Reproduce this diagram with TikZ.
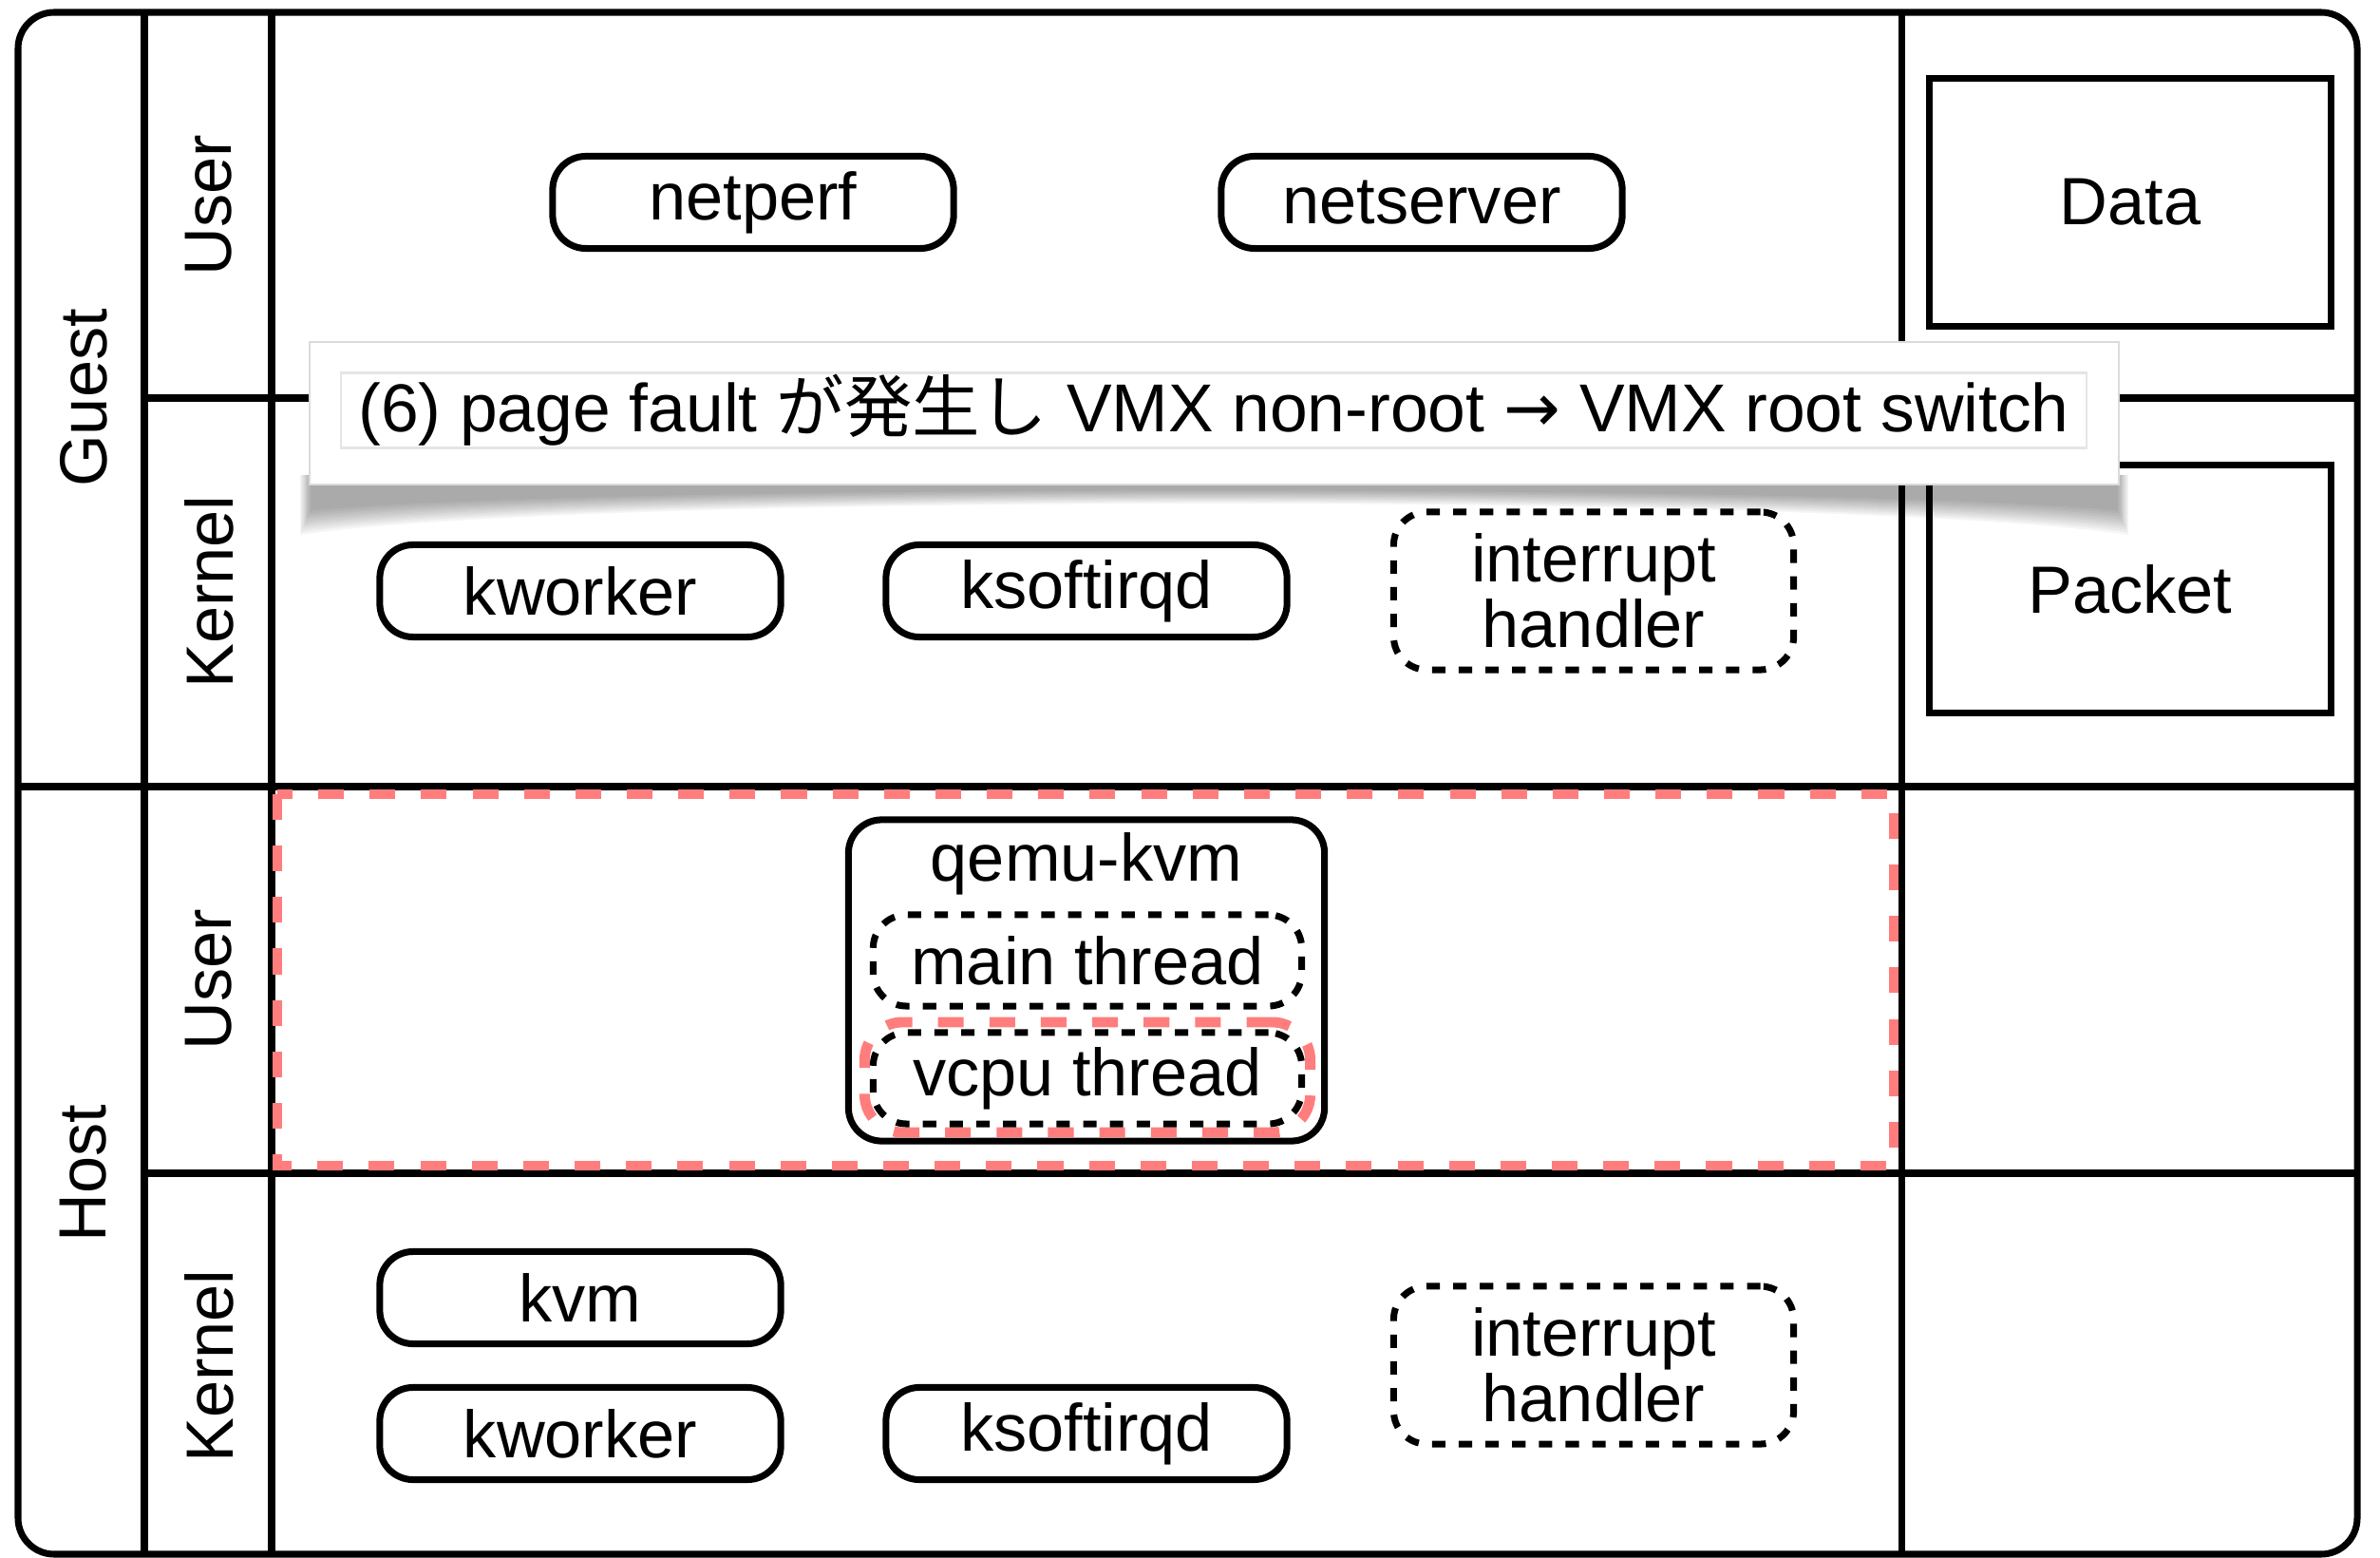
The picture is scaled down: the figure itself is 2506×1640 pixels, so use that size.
\documentclass[tikz,border=0pt]{standalone}
\usepackage{fontspec}
\setmainfont{Liberation Sans}
\newfontfamily\jpfont{Noto Sans CJK JP}
\newfontfamily\symfont{DejaVu Sans}
\definecolor{hlred}{RGB}{255,125,125}
\begin{document}
\begin{tikzpicture}[x=0.01cm,y=-0.01cm,
  txt/.style={font=\fontsize{20}{19.6}\selectfont, align=center},
  frameline/.style={line width=2pt},
  proc/.style={draw, line width=2pt, rounded corners=0.35cm, minimum width=4.22cm, minimum height=0.97cm, inner sep=0pt, txt},
  dproc/.style={proc, dash pattern=on 4pt off 4pt},
  irq/.style={dproc, minimum width=4.21cm, minimum height=1.66cm},
  thr/.style={dproc, minimum width=4.51cm, minimum height=0.96cm},
  store/.style={draw, line width=2pt, minimum width=4.22cm, minimum height=2.60cm, inner sep=0pt, txt},
  hl/.style={draw=hlred, line width=3.1pt, dash pattern=on 7.7pt off 7.7pt},
  side/.style={rotate=90, inner sep=0pt, txt},
  shadowlayer/.style={fill=black, opacity=0.04}
]
\useasboundingbox (0,0) rectangle (2506,1640);

% outer frame and grid
\draw[frameline, rounded corners=0.38cm] (19,13) rectangle (2482,1636);
\draw[frameline] (152,13) -- (152,1636);
\draw[frameline] (286,13) -- (286,1636);
\draw[frameline] (2002,13) -- (2002,1636);
\draw[frameline] (152,419) -- (2482,419);
\draw[frameline] (19,828) -- (2482,828);
\draw[frameline] (152,1235) -- (2482,1235);

% side labels
\node[side] (guest) at (88,419) {Guest};
\node[side] (host) at (88,1235) {Host};
\node[side] (gu) at (220,216) {User};
\node[side] (gk) at (220,623) {Kernel};
\node[side] (hu) at (220,1031) {User};
\node[side] (hk) at (220,1438) {Kernel};

% guest user
\node[proc] (netperf) at (793,213) {netperf};
\node[proc] (netserver) at (1497,213) {netserver};

% guest kernel
\node[proc] (gkworker) at (611,622) {kworker};
\node[proc] (gksoft) at (1144,622) {ksoftirqd};
\node[irq] (girq) at (1678,622) {interrupt\\handler};

% right column
\node[store] (data) at (2243,213) {Data};
\node[store] (packet) at (2243,620) {Packet};

% host user
\draw[hl] (292,836) rectangle (1994,1227);
\node[proc, minimum width=5.01cm, minimum height=3.38cm] (qemu) at (1144,1032) {};
\node[txt, inner sep=0pt] (qemulbl) at (1144,909) {qemu-kvm};
\node[hl, rounded corners=0.4cm, minimum width=4.69cm, minimum height=1.16cm] (vhl) at (1145,1134) {};
\node[thr] (mainthr) at (1145,1011) {main thread};
\node[thr] (vcputhr) at (1145,1135) {vcpu thread};

% host kernel
\node[proc] (kvm) at (611,1366) {kvm};
\node[proc] (hkworker) at (611,1509) {kworker};
\node[proc] (hksoft) at (1144,1509) {ksoftirqd};
\node[irq] (hirq) at (1678,1437) {interrupt\\handler};

% callout shadow
\foreach \k in {1,...,10} {
  \pgfmathsetmacro\de{30+2.8*\k}
  \pgfmathsetmacro\dm{3+1.1*\k}
  \pgfmathsetmacro\dx{1.2*\k}
  \fill[shadowlayer] ({328-\dx},500) -- ({2229+\dx},500) -- ({2229+\dx},{505+\de})
    .. controls (1950,{505+\dm}) and (610,{505+\dm}) .. ({328-\dx},{505+\de}) -- cycle;
}
% callout
\fill[white] (326,360) rectangle (2231,510);
\draw[black!14, line width=0.5pt] (326,360) rectangle (2231,510);
\node[draw=black!10, line width=0.6pt, minimum width=18.37cm, minimum height=0.79cm, inner sep=0pt, font=\fontsize{20.3}{20}\selectfont] (callout) at (1278,432)
  {(6) page fault {\jpfont が発生し} VMX non-root {\symfont →} VMX root switch};
\end{tikzpicture}
\end{document}
